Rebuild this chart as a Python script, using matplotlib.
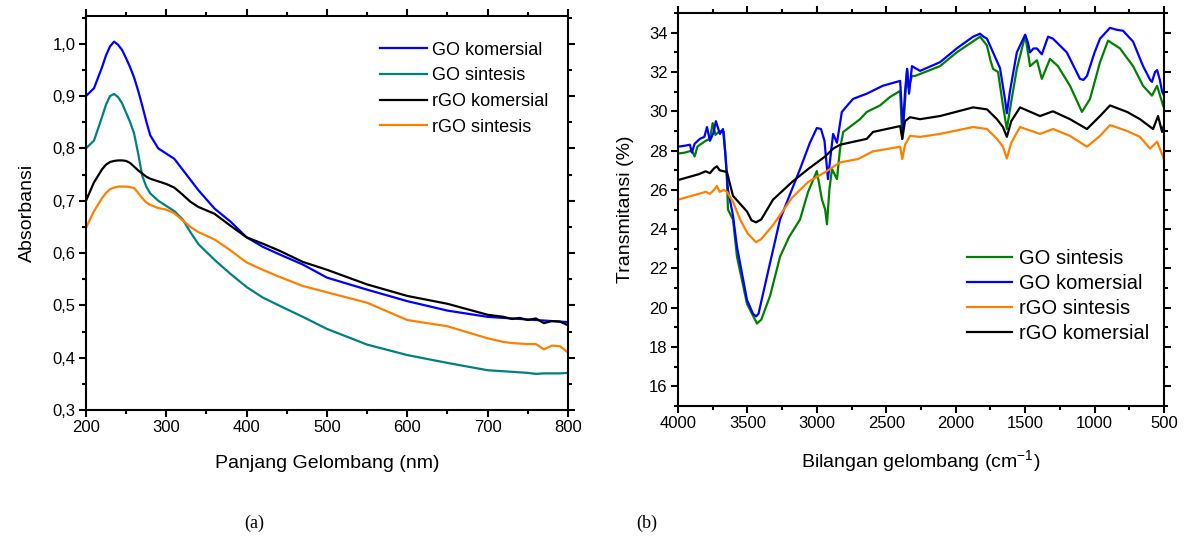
import numpy as np
import matplotlib
matplotlib.use("Agg")
import matplotlib.pyplot as plt
from matplotlib.ticker import MultipleLocator, FuncFormatter

plt.rcParams['font.family'] = ['Liberation Sans', 'DejaVu Sans']
plt.rcParams['mathtext.fontset'] = 'custom'
plt.rcParams['mathtext.rm'] = 'Liberation Sans'

# (a) UV-Vis
nm = [200, 210, 220, 225, 230, 235, 240, 245, 250, 255, 260, 265, 270, 275, 280, 290, 300,
      310, 320, 330, 340, 360, 380, 400, 420, 440, 470, 500, 550, 600, 650, 700, 720, 730,
      740, 750, 760, 770, 780, 790, 800]
go_kom_uv = [0.900, 0.915, 0.955, 0.978, 0.995, 1.004, 0.998, 0.988, 0.972, 0.955, 0.935,
             0.910, 0.882, 0.852, 0.825, 0.800, 0.790, 0.780, 0.760, 0.740, 0.720, 0.685,
             0.660, 0.630, 0.612, 0.598, 0.578, 0.553, 0.530, 0.508, 0.490, 0.478, 0.476,
             0.475, 0.474, 0.473, 0.472, 0.471, 0.470, 0.469, 0.468]
go_sin_uv = [0.800, 0.815, 0.860, 0.884, 0.900, 0.904, 0.898, 0.886, 0.868, 0.850, 0.828,
             0.790, 0.748, 0.727, 0.714, 0.700, 0.690, 0.680, 0.665, 0.640, 0.617, 0.587,
             0.560, 0.535, 0.515, 0.500, 0.478, 0.455, 0.425, 0.405, 0.390, 0.376, 0.374,
             0.373, 0.372, 0.371, 0.369, 0.370, 0.370, 0.370, 0.371]
rgo_kom_uv = [0.700, 0.735, 0.760, 0.769, 0.774, 0.776, 0.777, 0.777, 0.776, 0.772, 0.765,
              0.758, 0.752, 0.746, 0.742, 0.737, 0.732, 0.725, 0.712, 0.698, 0.688, 0.675,
              0.652, 0.630, 0.618, 0.605, 0.583, 0.568, 0.540, 0.518, 0.503, 0.482, 0.478,
              0.474, 0.476, 0.472, 0.475, 0.466, 0.470, 0.469, 0.462]
rgo_sin_uv = [0.648, 0.680, 0.705, 0.715, 0.722, 0.725, 0.727, 0.727, 0.727, 0.726, 0.724,
              0.715, 0.705, 0.697, 0.692, 0.686, 0.683, 0.676, 0.663, 0.650, 0.640, 0.626,
              0.605, 0.582, 0.568, 0.555, 0.537, 0.525, 0.505, 0.472, 0.460, 0.437, 0.430,
              0.428, 0.427, 0.426, 0.426, 0.416, 0.423, 0.422, 0.410]

# (b) FTIR
wn_go_kom = [4000, 3950, 3914, 3900, 3880, 3842, 3810, 3791, 3770, 3745, 3727, 3698, 3676,
             3660, 3640, 3604, 3575, 3503, 3460, 3438, 3420, 3359, 3265, 3121, 3050, 3000,
             2970, 2945, 2920, 2900, 2883, 2855, 2820, 2740, 2640, 2525, 2400, 2380, 2365,
             2350, 2336, 2315, 2257, 2113, 1993, 1875, 1825, 1800, 1775, 1731, 1700, 1681,
             1645, 1632, 1610, 1560, 1500, 1480, 1465, 1440, 1415, 1380, 1335, 1300, 1200,
             1105, 1080, 1055, 1000, 961, 889, 840, 795, 723, 651, 600, 587, 565, 550, 530,
             514, 500]
t_go_kom = [28.2, 28.25, 28.3, 27.9, 28.35, 28.6, 28.7, 29.2, 28.5, 28.9, 29.5, 28.85, 29.1,
            27.9, 26.0, 24.7, 23.1, 20.4, 19.7, 19.56, 19.7, 21.6, 24.5, 27.06, 28.4, 29.15,
            29.1, 28.5, 26.55, 27.8, 28.85, 28.4, 29.97, 30.63, 30.9, 31.3, 31.55, 29.1, 31.0,
            32.16, 30.9, 32.3, 32.06, 32.5, 33.2, 33.8, 33.95, 33.8, 33.7, 33.0, 32.5, 32.2,
            30.6, 29.9, 31.0, 33.0, 33.9, 33.5, 33.0, 33.2, 33.2, 32.9, 33.8, 33.7, 33.0,
            31.65, 31.6, 31.8, 33.0, 33.7, 34.25, 34.15, 34.1, 33.55, 32.3, 31.6, 31.5, 32.0,
            32.1, 31.6, 31.0, 30.8]

wn_go_sin = [4000, 3950, 3900, 3880, 3860, 3842, 3800, 3770, 3750, 3730, 3700, 3670, 3650,
             3640, 3604, 3575, 3503, 3431, 3400, 3337, 3265, 3200, 3121, 3063, 3000, 2963,
             2940, 2927, 2910, 2891, 2855, 2833, 2810, 2689, 2640, 2545, 2473, 2400, 2385,
             2365, 2350, 2340, 2315, 2293, 2113, 1993, 1825, 1775, 1750, 1731, 1695, 1660,
             1632, 1600, 1560, 1500, 1480, 1465, 1415, 1380, 1321, 1264, 1177, 1091, 1033,
             961, 903, 817, 723, 651, 587, 550, 507, 500]
t_go_sin = [27.85, 27.9, 28.0, 27.7, 28.2, 28.3, 28.5, 28.6, 29.4, 28.8, 29.0, 28.95, 27.0,
            25.0, 24.5, 22.6, 20.2, 19.2, 19.4, 20.6, 22.6, 23.6, 24.5, 25.9, 26.96, 25.5,
            25.0, 24.25, 26.0, 27.06, 26.55, 28.1, 28.95, 29.6, 29.97, 30.3, 30.73, 31.04,
            28.6, 30.5, 32.16, 31.2, 31.8, 31.8, 32.3, 33.0, 33.8, 33.35, 32.6, 32.16, 32.0,
            30.3, 29.1, 30.5, 32.16, 33.85, 33.0, 32.3, 32.6, 31.65, 32.67, 32.3, 31.3,
            29.97, 30.63, 32.5, 33.6, 33.2, 32.3, 31.3, 30.8, 31.3, 30.3, 30.2]

wn_rgo_kom = [4000, 3950, 3900, 3850, 3800, 3770, 3740, 3720, 3700, 3670, 3647, 3604, 3503,
              3470, 3438, 3400, 3316, 3179, 3063, 2941, 2883, 2833, 2640, 2596, 2400, 2385,
              2365, 2329, 2257, 2113, 1875, 1775, 1703, 1660, 1632, 1600, 1537, 1393, 1300,
              1177, 1055, 961, 889, 766, 673, 579, 543, 514, 500]
t_rgo_kom = [26.5, 26.6, 26.7, 26.8, 26.95, 26.85, 27.1, 27.2, 27.0, 26.95, 26.9, 25.7, 24.9,
             24.45, 24.35, 24.5, 25.5, 26.4, 27.06, 27.7, 28.1, 28.3, 28.6, 28.95, 29.25, 28.6,
             29.5, 29.7, 29.6, 29.76, 30.2, 30.1, 29.6, 29.2, 28.7, 29.5, 30.2, 29.76, 30.0,
             29.6, 29.1, 29.76, 30.3, 29.97, 29.6, 29.1, 29.76, 28.95, 29.3]

wn_rgo_sin = [4000, 3950, 3900, 3850, 3800, 3770, 3740, 3720, 3700, 3670, 3647, 3604, 3553,
              3500, 3438, 3400, 3316, 3179, 3063, 2941, 2833, 2704, 2596, 2400, 2385, 2365,
              2329, 2257, 2113, 1875, 1775, 1703, 1660, 1632, 1600, 1537, 1393, 1300, 1177,
              1055, 961, 889, 766, 673, 601, 550, 507, 500]
t_rgo_sin = [25.5, 25.6, 25.7, 25.8, 25.9, 25.8, 26.0, 26.2, 25.9, 26.0, 25.9, 25.4, 24.5,
             23.8, 23.34, 23.5, 24.2, 25.6, 26.4, 26.9, 27.4, 27.57, 27.96, 28.2, 27.57, 28.3,
             28.75, 28.7, 28.85, 29.2, 29.1, 28.6, 28.2, 27.6, 28.4, 29.2, 28.85, 29.1, 28.75,
             28.2, 28.75, 29.3, 29.0, 28.7, 28.1, 28.45, 27.7, 27.5]

lw = 1.6
fig = plt.figure(figsize=(11.89, 5.48), dpi=100)


def gaya(ax):
    for s in ax.spines.values():
        s.set_linewidth(1.5)
    ax.tick_params(which='both', direction='out', top=True, right=True, width=1.5,
                   labelsize=12, pad=2.5)
    ax.tick_params(which='major', length=5)
    ax.tick_params(which='minor', length=3)


# panel a
ax1 = fig.add_axes([0.0723, 0.2518, 0.4054, 0.719])
ax1.plot(nm, go_kom_uv, color='#0000FF', lw=lw, label='GO komersial')
ax1.plot(nm, go_sin_uv, color='#008080', lw=lw, label='GO sintesis')
ax1.plot(nm, rgo_kom_uv, color='black', lw=lw, label='rGO komersial')
ax1.plot(nm, rgo_sin_uv, color='#FF8000', lw=lw, label='rGO sintesis')
ax1.set_xlim(200, 800)
ax1.set_ylim(0.3, 1.053)
ax1.xaxis.set_major_locator(MultipleLocator(100))
ax1.xaxis.set_minor_locator(MultipleLocator(50))
ax1.yaxis.set_major_locator(MultipleLocator(0.1))
ax1.yaxis.set_minor_locator(MultipleLocator(0.05))
ax1.yaxis.set_major_formatter(FuncFormatter(lambda v, p: ('%.1f' % v).replace('.', ',')))
gaya(ax1)
ax1.set_xlabel('Panjang Gelombang (nm)', fontsize=14, labelpad=14)
ax1.set_ylabel('Absorbansi', fontsize=14, labelpad=12)
ax1.legend(loc='upper right', bbox_to_anchor=(0.975, 0.953), borderaxespad=0,
           frameon=False, fontsize=13, handlelength=2.6, handletextpad=0.3,
           labelspacing=0.48)

# panel b
ax2 = fig.add_axes([0.5702, 0.2591, 0.4088, 0.717])
ax2.plot(wn_go_sin, t_go_sin, color='#008000', lw=lw, label='GO sintesis')
ax2.plot(wn_go_kom, t_go_kom, color='#0000FF', lw=lw, label='GO komersial')
ax2.plot(wn_rgo_sin, t_rgo_sin, color='#FF8000', lw=lw, label='rGO sintesis')
ax2.plot(wn_rgo_kom, t_rgo_kom, color='black', lw=lw, label='rGO komersial')
ax2.set_xlim(4000, 500)
ax2.set_ylim(15, 35)
ax2.xaxis.set_major_locator(MultipleLocator(500))
ax2.xaxis.set_minor_locator(MultipleLocator(250))
ax2.yaxis.set_major_locator(MultipleLocator(2))
ax2.yaxis.set_minor_locator(MultipleLocator(1))
gaya(ax2)
ax2.set_xlabel('Bilangan gelombang (cm$^{\\mathregular{-1}}$)', fontsize=14, labelpad=12)
ax2.set_ylabel('Transmitansi (%)', fontsize=14, labelpad=11)
ax2.legend(loc='lower right', bbox_to_anchor=(0.986, 0.14), borderaxespad=0,
           frameon=False, fontsize=14.5, handlelength=2.25, handletextpad=0.35,
           labelspacing=0.3)

fig.text(0.2136, 0.045, '(a)', family='Liberation Serif', fontsize=13, ha='center', va='center')
fig.text(0.544, 0.045, '(b)', family='Liberation Serif', fontsize=13, ha='center', va='center')

fig.savefig('out.png', dpi=100)
